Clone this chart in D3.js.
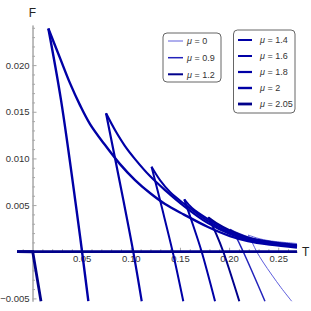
<!DOCTYPE html>
<html>
<head>
<meta charset="utf-8">
<script src="https://cdn.jsdelivr.net/npm/d3@7"></script>
<style>
  body { margin: 0; background: #fff; }
  text { font-family: "Liberation Sans", Arial, sans-serif; }
</style>
</head>
<body>
<svg id="chart" width="311" height="311"></svg>
<script>
// chemical potential of each curve, in legend order
const muValues = ['0', '0.9', '1.2', '1.4', '1.6', '1.8', '2', '2.05']

// [T, F]: lower end of the steep branch -> cusp -> upper branch
const curveMu0 = [[0.2637, -0.0053], [0.2528, -0.00384], [0.2436, -0.00250], [0.2345, -0.00110], [0.2281, 0], [0.2238, 0.00093], [0.2195, 0.00179], [0.2294, 0.00144], [0.2416, 0.00117], [0.2691, 0.00088]]
const curveMu09 = [[0.2365, -0.0053], [0.2144, 0], [0.2060, 0.00179], [0.2009, 0.00240], [0.2091, 0.00198], [0.2192, 0.00159], [0.2416, 0.00109], [0.2691, 0.00076]]
const curveMu12 = [[0.2104, -0.0053], [0.1941, 0], [0.1874, 0.00179], [0.1788, 0.00368], [0.1867, 0.00310], [0.2009, 0.00229], [0.2192, 0.00151], [0.2416, 0.00104], [0.2691, 0.00070]]
const curveMu14 = [[0.1857, -0.0053], [0.1721, 0], [0.1633, 0.00286], [0.1544, 0.00561], [0.1623, 0.00468], [0.1785, 0.00350], [0.2009, 0.00216], [0.2192, 0.00144], [0.2416, 0.00099], [0.2691, 0.00064]]
const curveMu16 = [[0.1534, -0.0053], [0.1426, 0], [0.1320, 0.00457], [0.1211, 0.00911], [0.1297, 0.00768], [0.1399, 0.00640], [0.1541, 0.00516], [0.1785, 0.00329], [0.2009, 0.00202], [0.2192, 0.00136], [0.2416, 0.00093], [0.2691, 0.00059]]
const curveMu18 = [[0.1111, -0.0053], [0.1025, 0], [0.0924, 0.00554], [0.0748, 0.01483], [0.0839, 0.01304], [0.0941, 0.01132], [0.1043, 0.00993], [0.1195, 0.00811], [0.1348, 0.00661], [0.1541, 0.00490], [0.1785, 0.00307], [0.2009, 0.00190], [0.2192, 0.00127], [0.2416, 0.00088], [0.2691, 0.00054]]
const curveMu2 = [[0.0568, -0.0053], [0.0504, 0], [0.0448, 0.00447], [0.0290, 0.01625], [0.0161, 0.02393], [0.0280, 0.02075], [0.0381, 0.01807], [0.0483, 0.01571], [0.0585, 0.01368], [0.0738, 0.01143], [0.0890, 0.00939], [0.1043, 0.00768], [0.1195, 0.00629], [0.1348, 0.00511], [0.1541, 0.00398], [0.1785, 0.00265], [0.2009, 0.00168], [0.2192, 0.00115], [0.2416, 0.00077], [0.2691, 0.00045]]
const curveMu205 = [[0.0086, -0.0053], [0.0002, 0], [-0.0158, 0.00001], [0.2691, 0.00002]]

const xTickValues = [0.05, 0.10, 0.15, 0.20, 0.25]
const yTickValues = [-0.005, 0.005, 0.010, 0.015, 0.020]

const curves = [curveMu0, curveMu09, curveMu12, curveMu14, curveMu16, curveMu18, curveMu2, curveMu205]

// line looks per curve
const styles = [
    { color: '#4c4cd8', width: 0.9, smooth: true },
    { color: '#2323bb', width: 1.5, smooth: true },
    { color: '#00008c', width: 2, smooth: true },
    { color: '#0000a6', width: 2, smooth: true },
    { color: '#0000a6', width: 2, smooth: true },
    { color: '#0000a6', width: 2.2, smooth: true },
    { color: '#0000a6', width: 2.4, smooth: true },
    { color: '#00008a', width: 2.8, smooth: false }
]

const svg = d3.select('#chart')

const x = d3.scaleLinear().domain([-0.0158, 0.2691]).range([17, 297])
const y = d3.scaleLinear().domain([-0.0053, 0.0243]).range([301.2, 25])

const axisColor = '#a6a6a6'
const labelColor = '#333'

// minor ticks
const xMinor = d3.range(-0.01, 0.265, 0.01).filter(v => !xTickValues.some(t => Math.abs(t - v) < 1e-9) && Math.abs(v) > 1e-9)
const yMinor = d3.range(-0.005, 0.0245, 0.001).filter(v => !yTickValues.some(t => Math.abs(t - v) < 1e-9) && Math.abs(v) > 1e-9)

function styleAxis(g) {
    g.select('.domain').attr('stroke', axisColor)
    g.selectAll('.tick line').attr('stroke', axisColor)
    g.selectAll('.tick text')
        .attr('fill', labelColor)
        .style('font-size', '9.5px')
        .style('font-family', '"Liberation Sans", Arial, sans-serif')
}

svg.append('g')
    .attr('transform', 'translate(0,' + y(0) + ')')
    .call(d3.axisBottom(x).tickValues(xMinor).tickSize(-2.5).tickSizeOuter(0).tickFormat(''))
    .call(styleAxis)

svg.append('g')
    .attr('transform', 'translate(0,' + y(0) + ')')
    .call(d3.axisBottom(x).tickValues(xTickValues).tickSize(-4).tickSizeOuter(0).tickPadding(4).tickFormat(d3.format('.2f')))
    .call(styleAxis)

svg.append('g')
    .attr('transform', 'translate(' + x(0) + ',0)')
    .call(d3.axisLeft(y).tickValues(yMinor).tickSize(-2.5).tickSizeOuter(0).tickFormat(''))
    .call(styleAxis)

svg.append('g')
    .attr('transform', 'translate(' + x(0) + ',0)')
    .call(d3.axisLeft(y).tickValues(yTickValues).tickSize(-4).tickSizeOuter(0).tickPadding(3).tickFormat(d3.format('.3f')))
    .call(styleAxis)

// axis names
svg.append('text')
    .attr('x', x(0))
    .attr('y', 17)
    .attr('text-anchor', 'middle')
    .attr('fill', '#222')
    .style('font-size', '12px')
    .text('F')

svg.append('text')
    .attr('x', 302)
    .attr('y', y(0) + 4.5)
    .attr('fill', '#222')
    .style('font-size', '12px')
    .text('T')

// curves: split each at its cusp (smallest T) so the cusp stays sharp
const smoothLine = d3.line()
    .x(d => x(d[0]))
    .y(d => y(d[1]))
    .curve(d3.curveCatmullRom.alpha(0.5))
const straightLine = d3.line()
    .x(d => x(d[0]))
    .y(d => y(d[1]))

const plotG = svg.append('g')
curves.forEach((data, i) => {
    let cusp = d3.minIndex(data, d => d[0])
    let branches = [data.slice(0, cusp + 1), data.slice(cusp)]
    let line = styles[i].smooth ? smoothLine : straightLine
    branches.forEach(b => {
        if (b.length < 2) return
        plotG.append('path')
            .attr('d', line(b))
            .attr('fill', 'none')
            .attr('stroke', styles[i].color)
            .attr('stroke-width', styles[i].width)
            .attr('stroke-linejoin', 'miter')
    })
})

// legends
function drawLegend(items, box, rowY, lineX, textX) {
    let g = svg.append('g')
    g.append('rect')
        .attr('x', box[0])
        .attr('y', box[1])
        .attr('width', box[2])
        .attr('height', box[3])
        .attr('rx', 4)
        .attr('fill', '#fff')
        .attr('stroke', '#555')
        .attr('stroke-width', 0.9)

    items.forEach((idx, k) => {
        let ry = rowY[k]
        g.append('line')
            .attr('x1', lineX[0])
            .attr('x2', lineX[1])
            .attr('y1', ry)
            .attr('y2', ry)
            .attr('stroke', styles[idx].color)
            .attr('stroke-width', styles[idx].width)
        let t = g.append('text')
            .attr('x', textX)
            .attr('y', ry + 3.3)
            .attr('fill', '#333')
            .style('font-size', '9px')
        t.append('tspan').style('font-style', 'italic').text('μ')
        t.append('tspan').text(' = ' + muValues[idx])
    })
}

drawLegend([0, 1, 2], [163, 33, 58, 49], [41, 57.7, 74.3], [168, 183], 187)
drawLegend([3, 4, 5, 6, 7], [233.5, 30, 61.5, 83], [40, 56, 72, 88, 104], [238, 252], 260)
</script>
</body>
</html>
